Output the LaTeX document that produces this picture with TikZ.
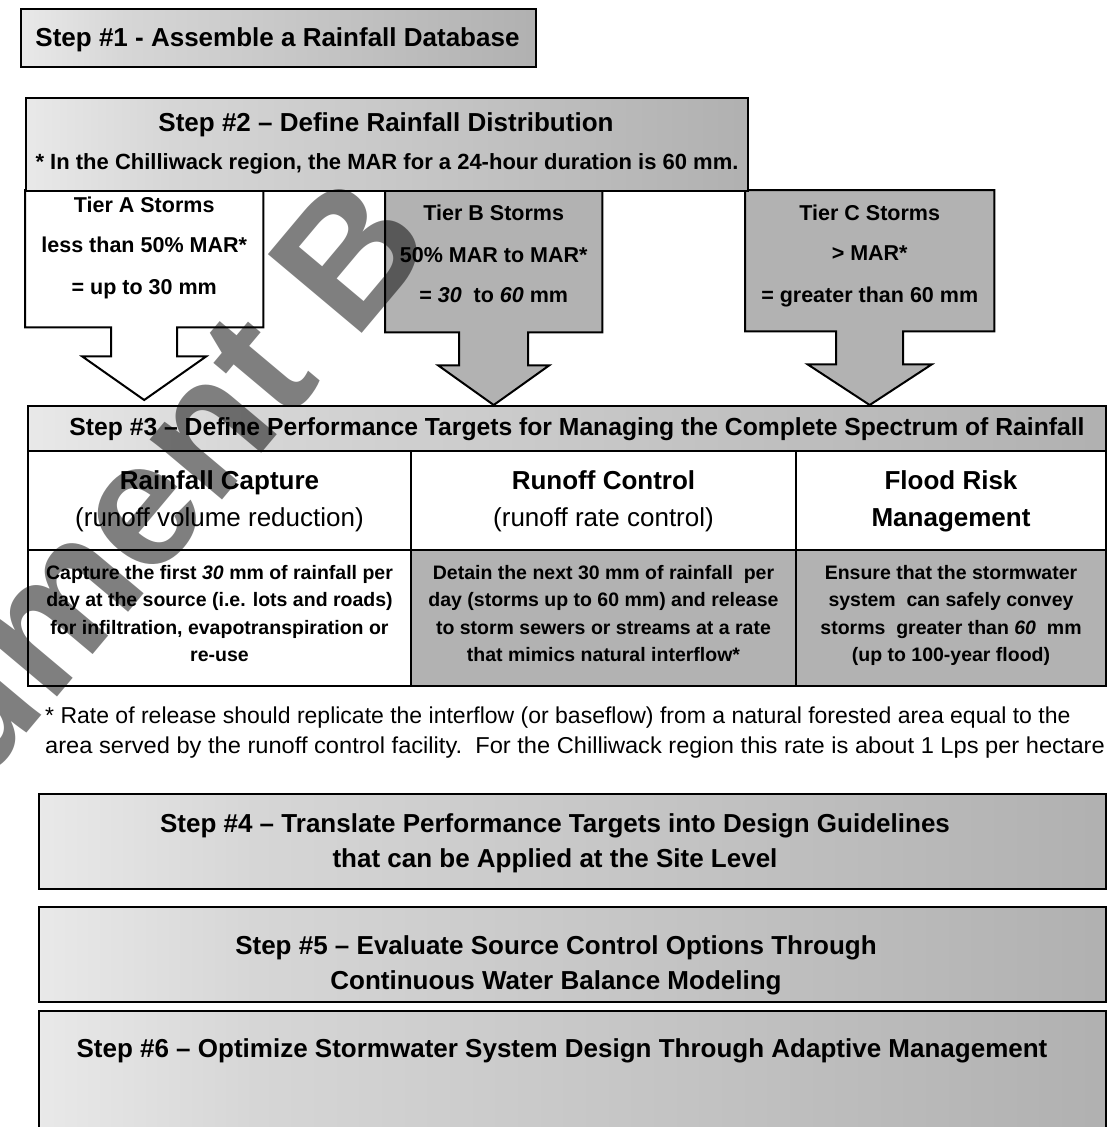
\documentclass[tikz,border=0pt]{standalone}
\usepackage{fontspec}
\setmainfont{Liberation Sans}
\usetikzlibrary{calc}
\pgfdeclarelayer{background}
\pgfdeclarelayer{front}
\pgfsetlayers{background,main,front}
% white on the left, fading into a mid grey on the right
\pgfdeclarehorizontalshading{stepfade}{100bp}{color(0bp)=(white); color(13bp)=(white); color(35bp)=(black!16); color(100bp)=(black!40)}
\newcommand{\setfs}[1]{\fontsize{#1pt}{#1pt}\selectfont}

\begin{document}
\begin{tikzpicture}[x=1pt,y=-1pt,
  boxline/.style={draw=black, line width=2pt, inner sep=0pt, anchor=north west},
  fadebox/.style={boxline, shading=stepfade},
  dotbox/.style={boxline, fill=black!30},
  plainbox/.style={boxline, fill=white},
  holder/.style={inner sep=0pt, anchor=north west},
  callout/.style={draw=black, line width=2pt, line join=miter},
  lbl/.style={inner sep=0pt, text depth=0pt},
  ttl/.style={lbl, font=\setfs{26}\bfseries, text height=18.6pt},
  sub/.style={lbl, font=\setfs{22}\bfseries, text height=15.8pt},
  tier/.style={lbl, font=\setfs{21.5}\bfseries, text height=15.4pt},
  tabttl/.style={lbl, font=\setfs{24.7}\bfseries, text height=17.7pt},
  hdreg/.style={lbl, font=\setfs{26}, text height=18.6pt},
  body/.style={lbl, font=\setfs{19.5}\bfseries, text height=14pt},
  fnote/.style={lbl, font=\setfs{23}, text height=16.5pt, anchor=west}
]
\useasboundingbox (0,0) rectangle (1107,1127);
\clip (0,0) rectangle (1107,1127);

% Step 1
\node[fadebox, minimum width=515pt, minimum height=58pt] (s1) at (20,8) {};
\node[ttl] (s1t) at (277.5,37) {Step \#1 - Assemble a Rainfall Database};

% Step 2
\node[fadebox, minimum width=722pt, minimum height=93pt] (s2) at (25,97) {};
\node[ttl] (s2t) at (386,122) {Step \#2 – Define Rainfall Distribution};
\node[sub] (s2s) at (387,162) {* In the Chilliwack region, the MAR for a 24-hour duration is 60 mm.};

% storm tiers (outlines drawn below, on the background layer)
\node[holder, minimum width=238pt, minimum height=137pt] (tA) at (25,190) {};
\node[holder, minimum width=217pt, minimum height=142pt] (tB) at (385,190) {};
\node[holder, minimum width=249pt, minimum height=141pt] (tC) at (745,190) {};

\node[tier] (tA1) at (tA.north |- 0,205) {Tier A Storms};
\node[tier] (tA2) at (tA.north |- 0,245) {less than 50\% MAR*};
\node[tier] (tA3) at (tA.north |- 0,287) {= up to 30 mm};

\node[tier] (tB1) at (tB.north |- 0,213) {Tier B Storms};
\node[tier] (tB2) at (tB.north |- 0,255) {50\% MAR to MAR*};
\node[tier] (tB3) at (tB.north |- 0,295) {= \textit{30}\ \ to \textit{60} mm};

\node[tier] (tC1) at (tC.north |- 0,213) {Tier C Storms};
\node[tier] (tC2) at (tC.north |- 0,253) {> MAR*};
\node[tier] (tC3) at (tC.north |- 0,295) {= greater than 60 mm};

% Step 3 table
\node[fadebox, minimum width=1078pt, minimum height=45pt] (s3) at (27,405) {};
\node[tabttl] (s3t) at (577,427) {Step \#3 – Define Performance Targets for Managing the Complete Spectrum of Rainfall};

\node[plainbox, minimum width=383pt, minimum height=99pt] (h1) at (27,450) {};
\node[plainbox, minimum width=385pt, minimum height=99pt] (h2) at (410,450) {};
\node[plainbox, minimum width=310pt, minimum height=99pt] (h3) at (795,450) {};
\node[plainbox, minimum width=383pt, minimum height=136pt] (b1) at (27,549) {};
\node[dotbox, minimum width=385pt, minimum height=136pt] (b2) at (410,549) {};
\node[dotbox, minimum width=310pt, minimum height=136pt] (b3) at (795,549) {};

\node[ttl] (h1a) at (h1.north |- 0,480) {Rainfall Capture};
\node[hdreg] (h1b) at (h1.north |- 0,517) {(runoff volume reduction)};
\node[ttl] (h2a) at (h2.north |- 0,480) {Runoff Control};
\node[hdreg] (h2b) at (h2.north |- 0,517) {(runoff rate control)};
\node[ttl] (h3a) at (h3.north |- 0,480) {Flood Risk};
\node[ttl] (h3b) at (h3.north |- 0,517) {Management};

\node[body] (b1a) at (b1.north |- 0,572) {Capture the first \textit{30} mm of rainfall per};
\node[body] (b1b) at (b1.north |- 0,599) {day at the source (i.e. lots and roads)};
\node[body] (b1c) at (b1.north |- 0,627) {for infiltration, evapotranspiration or};
\node[body] (b1d) at (b1.north |- 0,654) {re-use};

\node[body] (b2a) at (b2.north |- 0,572) {Detain the next 30 mm of rainfall\ \ per};
\node[body] (b2b) at (b2.north |- 0,599) {day (storms up to 60 mm) and release};
\node[body] (b2c) at (b2.north |- 0,627) {to storm sewers or streams at a rate};
\node[body] (b2d) at (b2.north |- 0,654) {that mimics natural interflow*};

\node[body] (b3a) at (b3.north |- 0,572) {Ensure that the stormwater};
\node[body] (b3b) at (b3.north |- 0,599) {system\ \ can safely convey};
\node[body] (b3c) at (b3.north |- 0,627) {storms\ \ greater than \textit{60}\ \ mm};
\node[body] (b3d) at (b3.north |- 0,654) {(up to 100-year flood)};

% footnote
\node[fnote] (fn1) at (45,715) {* Rate of release should replicate the interflow (or baseflow) from a natural forested area equal to the};
\node[fnote] (fn2) at (45,745) {\scalebox{1.028}[1]{area served by the runoff control facility.\ \ For the Chilliwack region this rate is about 1 Lps per hectare}};

% Steps 4 to 6
\node[fadebox, minimum width=1067pt, minimum height=95pt] (s4) at (38,793) {};
\node[ttl] (s4a) at (555,823) {Step \#4 – Translate Performance Targets into Design Guidelines};
\node[ttl] (s4b) at (555,858) {that can be Applied at the Site Level};

\node[fadebox, minimum width=1067pt, minimum height=95pt] (s5) at (38,906) {};
\node[ttl] (s5a) at (556,945) {Step \#5 – Evaluate Source Control Options Through};
\node[ttl] (s5b) at (556,980) {Continuous Water Balance Modeling};

\node[fadebox, minimum width=1067pt, minimum height=140pt] (s6) at (38,1010) {};
\node[ttl] (s6a) at (562,1048) {Step \#6 – Optimize Stormwater System Design Through Adaptive Management};

% tier boxes with their down-arrows into the Step 3 table
\begin{pgfonlayer}{background}
\draw[callout, fill=white] (tA.north west) -- (tA.north east) -- (tA.south east)
  -- ($(tA.south)+(33,0)$) -- ($(tA.south)+(33,29)$) -- ($(tA.south)+(62,29)$)
  -- ($(tA.south |- s3.north)+(0,-5)$)
  -- ($(tA.south)+(-62,29)$) -- ($(tA.south)+(-33,29)$) -- ($(tA.south)+(-33,0)$)
  -- (tA.south west) -- cycle;
\draw[callout, fill=black!30] (tB.north west) -- (tB.north east) -- (tB.south east)
  -- ($(tB.south)+(34.5,0)$) -- ($(tB.south)+(34.5,33)$) -- ($(tB.south)+(55.5,33)$)
  -- (tB.south |- s3.north)
  -- ($(tB.south)+(-55.5,33)$) -- ($(tB.south)+(-34.5,33)$) -- ($(tB.south)+(-34.5,0)$)
  -- (tB.south west) -- cycle;
\draw[callout, fill=black!30] (tC.north west) -- (tC.north east) -- (tC.south east)
  -- ($(tC.south)+(33.5,0)$) -- ($(tC.south)+(33.5,33)$) -- ($(tC.south)+(62,33)$)
  -- (tC.south |- s3.north)
  -- ($(tC.south)+(-62,33)$) -- ($(tC.south)+(-33.5,33)$) -- ($(tC.south)+(-33.5,0)$)
  -- (tC.south west) -- cycle;
\end{pgfonlayer}

% translucent diagonal stamp
\begin{pgfonlayer}{front}
\begin{scope}
\clip (0,0) rectangle (1107,1127);
\node[rotate=50, anchor=base east, inner sep=0pt, text=black, text opacity=0.5,
      font=\setfs{178}\bfseries] (stamp) at (437,244) {Document B};
\end{scope}
\end{pgfonlayer}
\end{tikzpicture}
\end{document}
